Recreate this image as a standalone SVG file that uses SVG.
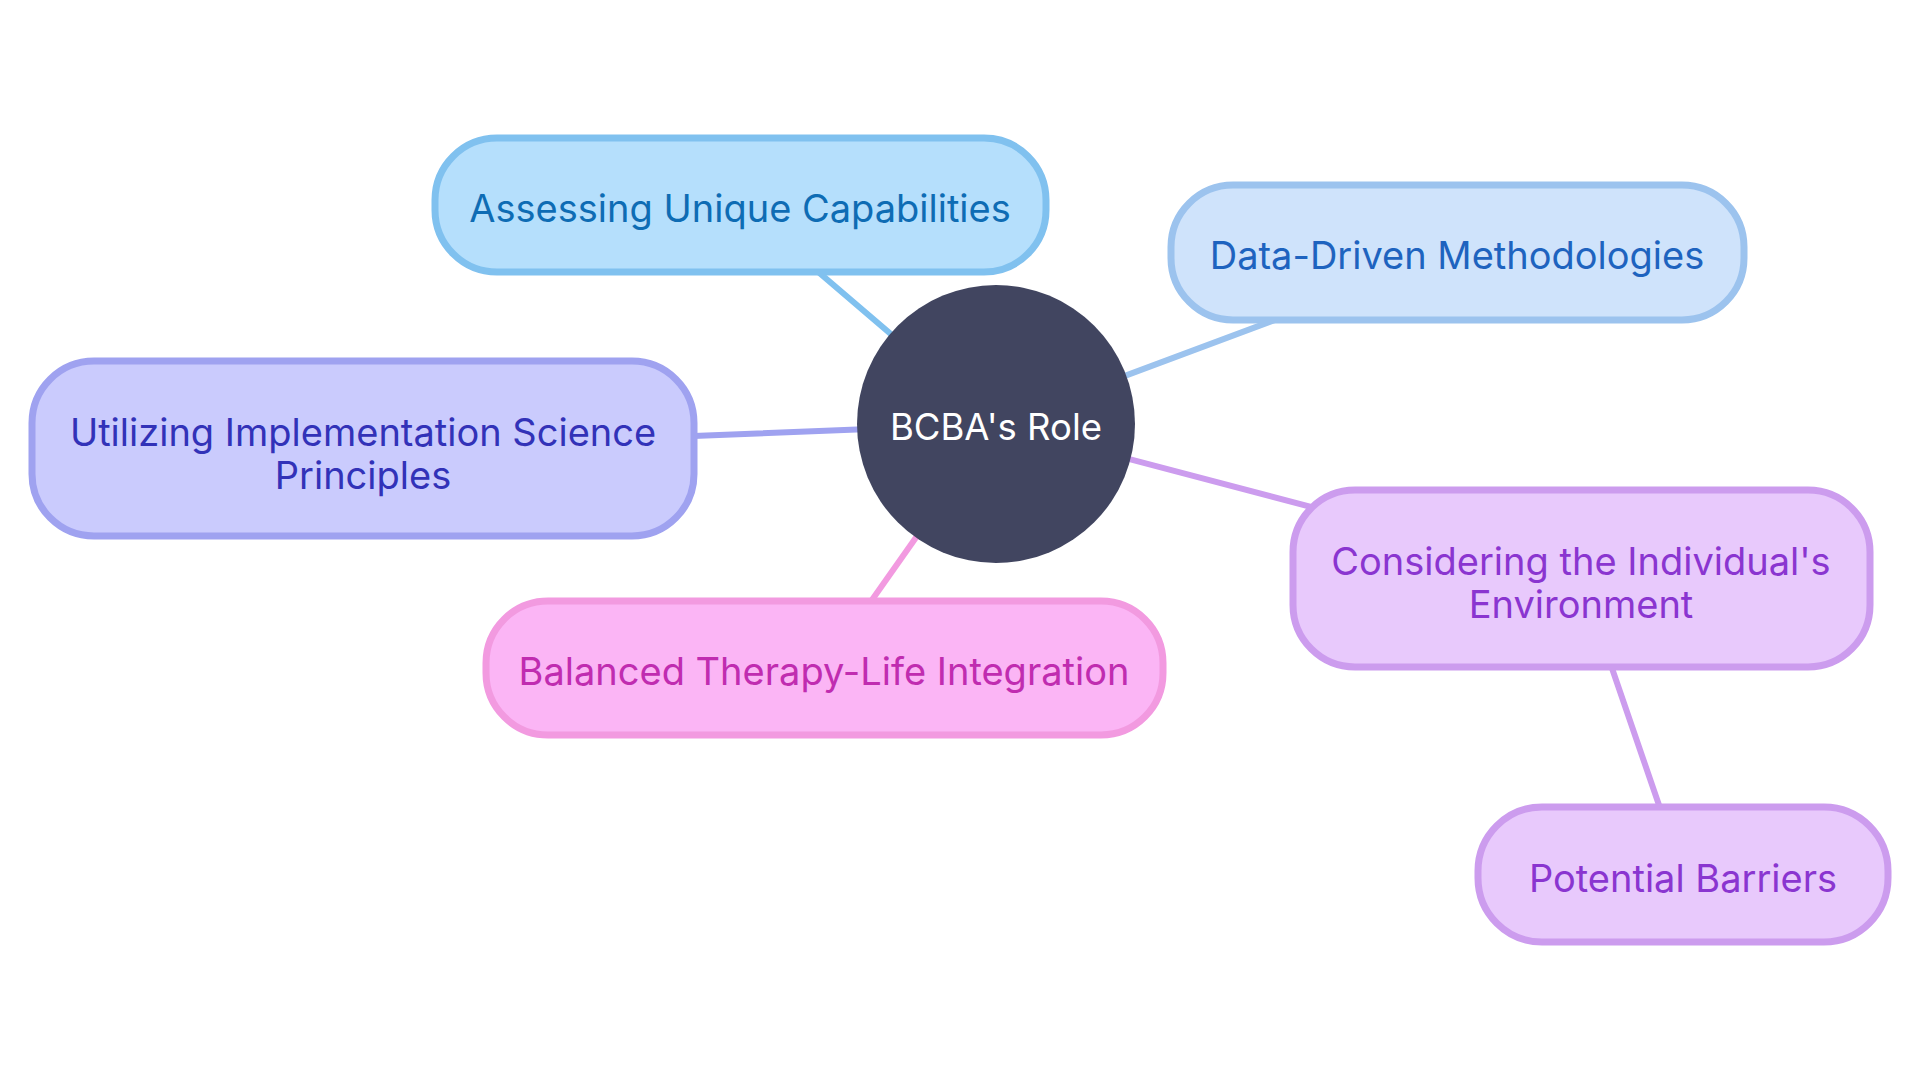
<svg xmlns="http://www.w3.org/2000/svg" width="1920" height="1080" viewBox="0 0 1920 1080">
<style>
text{font-family:Inter,"Noto Sans","Liberation Sans",sans-serif;font-size:38px;text-anchor:middle}
.e{stroke-width:6;fill:none;stroke-linecap:round}
.n{stroke-width:7}
.c1{fill:#b5dffc;stroke:#80c1ef}.t1{fill:#0e6cb4}
.c2{fill:#cfe3fb;stroke:#9cc3ee}.t2{fill:#1e63bf}
.c3{fill:#cacbfd;stroke:#9fa2f0}.t3{fill:#3232b8}
.c4{fill:#fbb5f5;stroke:#f29ae0}.t4{fill:#c02cb0}
.c5{fill:#e8c9fc;stroke:#cc9cee}.t5{fill:#8a35d0}
</style>
<rect width="1920" height="1080" fill="#ffffff"/>
<g id="connectors">
<line class="e" x1="996" y1="424" x2="740" y2="205" stroke="#80c1ef"/>
<line class="e" x1="996" y1="424" x2="1457" y2="252" stroke="#9cc3ee"/>
<line class="e" x1="996" y1="424" x2="363" y2="449" stroke="#9fa2f0"/>
<line class="e" x1="996" y1="424" x2="824" y2="668" stroke="#f29ae0"/>
<line class="e" x1="996" y1="424" x2="1581" y2="578" stroke="#cc9cee"/>
<line class="e" x1="1581" y1="578" x2="1683" y2="875" stroke="#cc9cee"/>
</g>
<g id="root">
<circle cx="996" cy="424" r="139" fill="#414560"/>
<text x="996" y="440" fill="#ffffff" style="font-size:36.5px">BCBA's Role</text>
</g>
<g id="assessing">
<rect class="n c1" x="435" y="138" width="611" height="134" rx="62"/>
<text class="t1" x="740" y="222">Assessing Unique Capabilities</text>
</g>
<g id="datadriven">
<rect class="n c2" x="1171" y="185" width="573" height="135" rx="62"/>
<text class="t2" x="1457" y="269">Data-Driven Methodologies</text>
</g>
<g id="utilizing">
<rect class="n c3" x="32" y="361" width="662" height="175" rx="62"/>
<text class="t3" x="363" y="446">Utilizing Implementation Science</text>
<text class="t3" x="363" y="489">Principles</text>
</g>
<g id="balanced">
<rect class="n c4" x="486" y="601" width="677" height="134" rx="62"/>
<text class="t4" x="824" y="685">Balanced Therapy-Life Integration</text>
</g>
<g id="considering">
<rect class="n c5" x="1293" y="490" width="577" height="177" rx="62"/>
<text class="t5" x="1581" y="575">Considering the Individual's</text>
<text class="t5" x="1581" y="618">Environment</text>
</g>
<g id="potential">
<rect class="n c5" x="1478" y="807" width="410" height="135" rx="64"/>
<text class="t5" x="1683" y="892">Potential Barriers</text>
</g>
</svg>
